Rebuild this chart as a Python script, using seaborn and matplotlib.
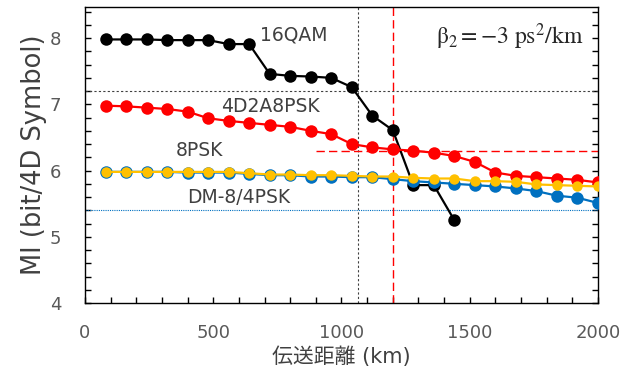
import numpy as np
import pandas as pd
import seaborn as sns
import matplotlib.pyplot as plt
from matplotlib.ticker import MultipleLocator

# ---------------------------------------------------------
# data
# ---------------------------------------------------------
dist = np.arange(80, 2001, 80)  # km, 25 points

mi_16qam = [7.98, 7.98, 7.98, 7.97, 7.97, 7.97, 7.91, 7.91, 7.46, 7.43,
            7.42, 7.40, 7.26, 6.83, 6.61, 5.78, 5.78, 5.25]
mi_4d2a8psk = [6.98, 6.97, 6.95, 6.93, 6.89, 6.79, 6.75, 6.72, 6.69, 6.66,
               6.60, 6.55, 6.40, 6.35, 6.32, 6.30, 6.27, 6.22, 6.13, 5.97,
               5.92, 5.90, 5.88, 5.86, 5.82]
mi_dm84psk = [5.98, 5.98, 5.98, 5.98, 5.97, 5.97, 5.97, 5.95, 5.93, 5.93,
              5.91, 5.91, 5.90, 5.90, 5.87, 5.84, 5.82, 5.80, 5.78, 5.76,
              5.73, 5.69, 5.62, 5.59, 5.51]
mi_8psk = [5.98, 5.98, 5.98, 5.98, 5.98, 5.98, 5.98, 5.96, 5.94, 5.94,
           5.93, 5.93, 5.92, 5.91, 5.91, 5.89, 5.88, 5.88, 5.84, 5.84,
           5.83, 5.79, 5.78, 5.77, 5.76]

labels = ["16QAM", "4D2A8PSK", "8PSK", "DM-8/4PSK"]
label_pos = [(815, 8.04), (721, 6.97), (448, 6.30), (600, 5.60)]

thr_black, thr_red, thr_blue = 7.2, 6.3, 5.4
vline_black, vline_red = 1065, 1200

# ---------------------------------------------------------
# style
# ---------------------------------------------------------
sns.set_theme(style="white")
plt.rcParams['font.family'] = ['DejaVu Sans', 'Noto Sans CJK JP']
plt.rcParams['mathtext.fontset'] = 'stix'

fig = plt.figure(figsize=(6.34, 3.74), dpi=100)
ax = fig.add_axes([85 / 634, 1 - 303 / 374, (598 - 85) / 634, (303 - 7) / 374])

# reference lines
ax.axhline(thr_black, color="#404040", lw=0.8, ls=(0, (2, 2)), zorder=1)
ax.axhline(thr_blue, color="#0070C0", lw=0.8, ls=(0, (1, 1)), zorder=1)
ax.axvline(vline_black, color="#404040", lw=0.8, ls=(0, (2, 2)), zorder=1)
ax.axvline(vline_red, color="#FF0000", lw=1.0, ls=(0, (6, 3)), zorder=1)
ax.plot([900, 2000], [thr_red, thr_red], color="#FF0000", lw=1.0, ls=(0, (6, 3)), zorder=1)

# series
sns.lineplot(x=dist[:len(mi_16qam)], y=mi_16qam, ax=ax, color="black", lw=1.6,
             marker="o", markersize=9, markeredgewidth=0, zorder=3)
sns.lineplot(x=dist, y=mi_4d2a8psk, ax=ax, color="#FF0000", lw=1.6,
             marker="o", markersize=9, markeredgewidth=0, zorder=3)
sns.lineplot(x=dist, y=mi_dm84psk, ax=ax, color="#0070C0", lw=1.6,
             marker="o", markersize=9, markeredgewidth=0, zorder=3)
sns.lineplot(x=dist, y=mi_8psk, ax=ax, color="#FFC000", lw=1.6,
             marker="o", markersize=7.5, markeredgewidth=0, zorder=4)

# annotations
for txt, (x, y) in zip(labels, label_pos):
    ax.text(x, y, txt, ha="center", va="center", fontsize=13.5, color="#404040")
ax.text(1657, 8.02, r"$\mathrm{\beta_2{=}{-}3\ ps^2/km}$", ha="center", va="center",
        fontsize=17, color="#262626")

# axes
ax.set_xlim(0, 2000)
ax.set_ylim(4, 8.47)
ax.xaxis.set_major_locator(MultipleLocator(500))
ax.xaxis.set_minor_locator(MultipleLocator(100))
ax.yaxis.set_major_locator(MultipleLocator(1))
ax.yaxis.set_minor_locator(MultipleLocator(0.2))
ax.tick_params(axis="both", which="both", direction="in", length=4, width=1,
               color="black", labelsize=13, labelcolor="#595959")
ax.tick_params(axis="x", which="both", bottom=True, top=False, pad=15)
ax.tick_params(axis="y", which="both", right=True, left=True, pad=17)
for s in ax.spines.values():
    s.set_color("black")
    s.set_linewidth(1)

ax.set_xlabel("伝送距離 (km)", fontsize=15, color="#404040", labelpad=3)
ax.set_ylabel("MI (bit/4D Symbol)", fontsize=18.5, color="#404040", labelpad=2)

fig.savefig("out.png", dpi=100)
